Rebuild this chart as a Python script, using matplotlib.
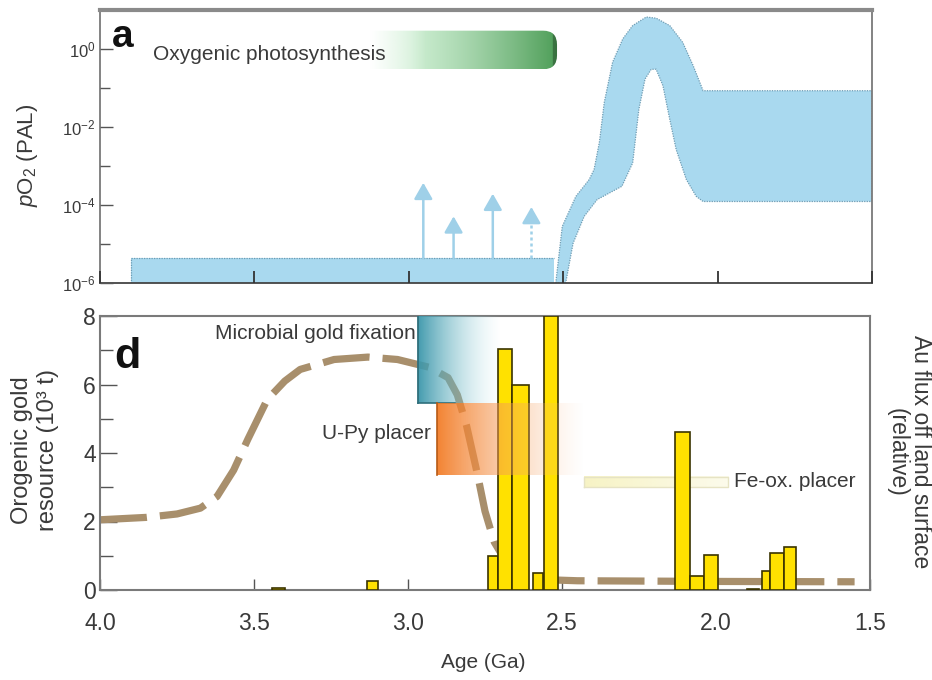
import numpy as np
import matplotlib
matplotlib.use('Agg')
import matplotlib.pyplot as plt
from matplotlib.patches import FancyBboxPatch
from matplotlib.ticker import FixedLocator, FixedFormatter, NullFormatter

plt.rcParams['font.family'] = ['Liberation Sans', 'DejaVu Sans']
plt.rcParams['mathtext.fontset'] = 'custom'
plt.rcParams['mathtext.rm'] = 'Liberation Sans'
plt.rcParams['mathtext.it'] = 'Liberation Sans:italic'
plt.rcParams['mathtext.bf'] = 'Liberation Sans:bold'

TEXT = '#3a3a3a'
SPINE = '#7a7a7a'

# ---------------- data: panel a (pO2, PAL; log10 values) ----------------
low_band_age = [3.9, 2.53]
low_band_top_log = -5.37
rise_upper_age = [2.524, 2.515, 2.503, 2.459, 2.416, 2.400, 2.383, 2.367, 2.340,
                  2.307, 2.275, 2.231, 2.199, 2.155, 2.113, 2.079, 2.047, 1.5]
rise_upper_log = [-6.0, -5.37, -4.55, -3.78, -3.35, -3.09, -2.40, -1.37, -0.34,
                  0.26, 0.60, 0.82, 0.79, 0.60, 0.17, -0.43, -1.07, -1.07]
rise_lower_age = [1.5, 2.047, 2.069, 2.101, 2.134, 2.155, 2.177, 2.199, 2.215,
                  2.235, 2.255, 2.275, 2.310, 2.390, 2.432, 2.468, 2.492]
rise_lower_log = [-3.91, -3.91, -3.78, -3.35, -2.58, -1.80, -0.94, -0.52, -0.52,
                  -0.77, -1.55, -2.92, -3.52, -3.86, -4.29, -4.98, -6.0]

arrow_age = [2.953, 2.855, 2.728, 2.603]
arrow_top_log = [-3.43, -4.29, -3.71, -4.05]
arrow_dotted = [False, False, False, True]

photo_age = [3.13, 2.52]          # oxygenic photosynthesis bar (fade start, end)
photo_log = [-0.52, 0.47]

top_yticks_log = [-6, -4, -2, 0]
top_ytick_labels = ['10$^{-6}$', '10$^{-4}$', '10$^{-2}$', '10$^{0}$']

# ---------------- data: panel d ----------------
bar_left = [3.441, 3.132, 2.740, 2.709, 2.663, 2.595, 2.557, 2.133, 2.085, 2.040,
            1.900, 1.850, 1.825, 1.780]
bar_right = [3.398, 3.096, 2.709, 2.663, 2.606, 2.562, 2.513, 2.085, 2.040, 1.995,
             1.860, 1.825, 1.780, 1.740]
bar_height = [0.06, 0.25, 1.0, 7.03, 6.0, 0.49, 8.0, 4.6, 0.4, 1.02,
              0.03, 0.56, 1.07, 1.27]

flux_age = [4.0, 3.85, 3.75, 3.674, 3.62, 3.566, 3.52, 3.457, 3.40, 3.35, 3.24, 3.13,
            3.034, 2.93, 2.87, 2.84, 2.81, 2.775, 2.75, 2.72, 2.69, 2.65, 2.61, 2.55,
            2.45, 2.0, 1.55]
flux_val = [2.05, 2.12, 2.22, 2.39, 2.73, 3.5, 4.4, 5.56, 6.1, 6.44, 6.73, 6.8,
            6.73, 6.5, 6.2, 5.7, 4.8, 3.4, 2.3, 1.4, 0.95, 0.6, 0.4, 0.3,
            0.27, 0.25, 0.24]

microbial_box = dict(age=[2.969, 2.70], val=[5.47, 8.0])
upy_box = dict(age=[2.906, 2.43], val=[3.37, 5.47])
feox_box = dict(age=[2.43, 1.96], val=[3.0, 3.3])

x_ticks = [4.0, 3.5, 3.0, 2.5, 2.0, 1.5]
x_tick_labels = ['4.0', '3.5', '3.0', '2.5', '2.0', '1.5']
y_ticks = [0, 2, 4, 6, 8]

# ---------------- figure ----------------
fig = plt.figure(figsize=(9.32, 6.8), dpi=100)
ax_a = fig.add_axes([100/932, 1-283/680, 772/932, 273/680])
ax_d = fig.add_axes([100/932, 1-590/680, 770/932, 274/680])

BLUE = '#a9d9ef'
BLUE_EDGE = '#6f9cb3'
ARROW = '#9fd0e8'

# ---- panel a ----
ax_a.set_yscale('log')
ax_a.set_xlim(4.0, 1.5)
ax_a.set_ylim(1e-6, 1e1)
ax_a.set_axisbelow(False)

ax_a.fill([low_band_age[0], low_band_age[1], low_band_age[1], low_band_age[0]],
          [1e-6, 1e-6, 10**low_band_top_log, 10**low_band_top_log],
          fc=BLUE, ec='none', zorder=2)
ax_a.plot(low_band_age, [10**low_band_top_log]*2, color=BLUE_EDGE, lw=0.9,
          ls=(0, (1, 1)), zorder=2.1)
ax_a.plot([low_band_age[0]]*2, [1e-6, 10**low_band_top_log], color=BLUE_EDGE, lw=0.9,
          ls=(0, (1, 1)), zorder=2.1)
poly_x = rise_upper_age + rise_lower_age
poly_y = [10**v for v in rise_upper_log + rise_lower_log]
ax_a.fill(poly_x, poly_y, fc=BLUE, ec=BLUE_EDGE, lw=0.9, ls=(0, (1, 1)), zorder=2)

for a, t, dotted in zip(arrow_age, arrow_top_log, arrow_dotted):
    base = 10**low_band_top_log
    if dotted:
        ax_a.plot([a, a], [base, 10**(t-0.35)], color=ARROW, lw=1.8,
                  ls=(0, (1.2, 1.2)), zorder=3)
        ax_a.annotate('', xy=(a, 10**t), xytext=(a, 10**(t-0.36)),
                      arrowprops=dict(arrowstyle='-|>,head_width=0.4,head_length=0.7',
                                      color=ARROW, lw=1.8, shrinkA=0, shrinkB=0,
                                      mutation_scale=14), zorder=3)
    else:
        ax_a.annotate('', xy=(a, 10**t), xytext=(a, base),
                      arrowprops=dict(arrowstyle='-|>,head_width=0.4,head_length=0.7',
                                      color=ARROW, lw=1.8, shrinkA=0, shrinkB=0,
                                      mutation_scale=14), zorder=3)

# photosynthesis gradient bar (in axes coords, clipped by rounded box)
d2a = ax_a.transData + ax_a.transAxes.inverted()
(fx0, fy0) = d2a.transform((photo_age[0], 10**photo_log[0]))
(fx1, fy1) = d2a.transform((photo_age[1], 10**photo_log[1]))
n = 256
t = np.linspace(0, 1, n)
grad = np.zeros((2, n, 4))
c_light = np.array([205, 238, 210]) / 255
c_dark = np.array([78, 158, 88]) / 255
mix = np.clip((t - 0.2) / 0.8, 0, 1) ** 1.3
for k in range(3):
    grad[:, :, k] = c_light[k] * (1 - mix) + c_dark[k] * mix
grad[:, :, 3] = np.clip(t / 0.3, 0, 1) ** 1.2
edge = t > 0.975
grad[:, edge, :3] *= 0.72
im = ax_a.imshow(grad, extent=(fx0, fx1, fy0, fy1), transform=ax_a.transAxes,
                 aspect='auto', interpolation='bilinear', zorder=2)
aw, ah = 772, 273
rs = 0.018
clip = FancyBboxPatch((fx0 - 0.05, fy0), fx1 - fx0 + 0.05, fy1 - fy0,
                      boxstyle=f'round,pad=0,rounding_size={rs}',
                      mutation_aspect=aw/ah, transform=ax_a.transAxes,
                      fc='none', ec='none')
ax_a.add_patch(clip)
im.set_clip_path(clip)

ax_a.text(3.827, 10**-0.13, 'Oxygenic photosynthesis', fontsize=15, color=TEXT,
          ha='left', va='center', zorder=5)
ax_a.text(3.96, 10**0.06, 'a', fontsize=28, fontweight='bold', color='#111111',
          ha='left', va='baseline', zorder=5)

ax_a.set_xlim(4.0, 1.5)
ax_a.set_ylim(1e-6, 1e1)
ax_a.yaxis.set_major_locator(FixedLocator([10.0**v for v in top_yticks_log]))
ax_a.yaxis.set_major_formatter(FixedFormatter(top_ytick_labels))
ax_a.yaxis.set_minor_locator(FixedLocator([1e-5, 1e-3, 1e-1]))
ax_a.yaxis.set_minor_formatter(NullFormatter())
ax_a.xaxis.set_major_locator(FixedLocator(x_ticks))
ax_a.xaxis.set_major_formatter(NullFormatter())
ax_a.tick_params(axis='both', which='both', direction='in', colors='#555555')
ax_a.tick_params(axis='y', which='major', length=9, width=1.0, labelsize=12,
                 pad=3, labelcolor=TEXT)
ax_a.tick_params(axis='y', which='minor', length=7, width=1.0)
ax_a.tick_params(axis='x', which='major', length=9, width=1.3, colors='#333333')
for s in ['left', 'right']:
    ax_a.spines[s].set_color(SPINE)
    ax_a.spines[s].set_linewidth(1.3)
ax_a.spines['top'].set_color('#8a8a8a')
ax_a.spines['top'].set_linewidth(3)
ax_a.spines['bottom'].set_color('#444444')
ax_a.spines['bottom'].set_linewidth(1.3)

fig.text(28/932, 1-155/680, r'$\it{p}$O$_2$ (PAL)', rotation=90, fontsize=16,
         color=TEXT, ha='center', va='center')

# ---- panel d ----
ax_d.set_xlim(4.0, 1.5)
ax_d.set_ylim(0, 8)

FLUX = '#a88f6c'
ax_d.plot(flux_age, flux_val, color=FLUX, lw=5.2, ls=(0, (6.5, 1.8)),
          solid_capstyle='butt', dash_capstyle='butt', zorder=2)

n = 256
tt = np.linspace(0, 1, n)

# microbial gold fixation (teal)
arr = np.zeros((2, n, 4))
c0 = np.array([58, 150, 170]) / 255
c1 = np.array([170, 220, 228]) / 255
for k in range(3):
    arr[:, :, k] = c0[k] * (1 - tt) + c1[k] * tt
arr[:, :, 3] = (1 - tt) ** 1.1 * 0.95
ax_d.imshow(arr, extent=(microbial_box['age'][0], microbial_box['age'][1],
                         microbial_box['val'][0], microbial_box['val'][1]),
            aspect='auto', interpolation='bilinear', zorder=3)
ax_d.plot([microbial_box['age'][0]]*2, microbial_box['val'], color='#2f6f7c',
          lw=1.3, zorder=3.1)
ax_d.plot([microbial_box['age'][0], microbial_box['age'][0] - 0.12],
          [microbial_box['val'][0]]*2, color='#2f6f7c', lw=1.2, zorder=3.1)

# bars
centers = [(l + r) / 2 for l, r in zip(bar_left, bar_right)]
widths = [l - r for l, r in zip(bar_left, bar_right)]
ax_d.bar(centers, bar_height, width=widths, color='#ffe100', edgecolor='#3a3300',
         linewidth=1.2, zorder=4)

# U-Py placer (orange)
arr = np.zeros((2, n, 4))
c0 = np.array([242, 118, 28]) / 255
c1 = np.array([250, 200, 160]) / 255
for k in range(3):
    arr[:, :, k] = c0[k] * (1 - tt) + c1[k] * tt
arr[:, :, 3] = (1 - tt) ** 1.0 * 0.9
ax_d.imshow(arr, extent=(upy_box['age'][0], upy_box['age'][1],
                         upy_box['val'][0], upy_box['val'][1]),
            aspect='auto', interpolation='bilinear', zorder=5)
ax_d.plot([upy_box['age'][0]]*2, upy_box['val'], color='#b85a15', lw=1.2, zorder=5.1)

# Fe-ox placer (pale yellow)
arr = np.zeros((2, n, 4))
arr[:, :, :3] = np.array([246, 242, 190]) / 255
arr[:, :, 3] = 0.9 - 0.6 * tt
ax_d.imshow(arr, extent=(feox_box['age'][0], feox_box['age'][1],
                         feox_box['val'][0], feox_box['val'][1]),
            aspect='auto', interpolation='bilinear', zorder=3)
ax_d.plot([feox_box['age'][0], feox_box['age'][1], feox_box['age'][1],
           feox_box['age'][0], feox_box['age'][0]],
          [feox_box['val'][0], feox_box['val'][0], feox_box['val'][1],
           feox_box['val'][1], feox_box['val'][0]],
          color='#e6e3c4', lw=1.0, zorder=3.1)

ax_d.text(2.975, 7.5, 'Microbial gold fixation', fontsize=15, color=TEXT,
          ha='right', va='center', zorder=6)
ax_d.text(2.925, 4.58, 'U-Py placer', fontsize=15, color=TEXT,
          ha='right', va='center', zorder=6)
ax_d.text(1.94, 3.16, 'Fe-ox. placer', fontsize=15, color=TEXT,
          ha='left', va='center', zorder=6)
ax_d.text(3.955, 6.48, 'd', fontsize=31, fontweight='bold', color='#111111',
          ha='left', va='baseline', zorder=6)

ax_d.set_xlim(4.0, 1.5)
ax_d.set_ylim(0, 8)
ax_d.xaxis.set_major_locator(FixedLocator(x_ticks))
ax_d.xaxis.set_major_formatter(FixedFormatter(x_tick_labels))
ax_d.yaxis.set_major_locator(FixedLocator(y_ticks))
ax_d.yaxis.set_minor_locator(FixedLocator([1, 3, 5, 7]))
ax_d.tick_params(axis='both', which='both', direction='in', colors='#555555',
                 labelcolor=TEXT)
ax_d.tick_params(axis='x', which='major', length=8, width=1.0, labelsize=16.5, pad=16)
ax_d.tick_params(axis='y', which='major', length=12, width=1.0, labelsize=16.5, pad=3)
ax_d.tick_params(axis='y', which='minor', length=9, width=1.0)
for s in ax_d.spines.values():
    s.set_color(SPINE)
    s.set_linewidth(1.5)

fig.text(483/932, 1-663/680, 'Age (Ga)', fontsize=15, color=TEXT,
         ha='center', va='center')
fig.text(35/932, 1-450/680, 'Orogenic gold\nresource (10\u00b3 t)', rotation=90,
         fontsize=17, color=TEXT, ha='center', va='center', multialignment='center',
         linespacing=1.2)
fig.text(909/932, 1-452/680, 'Au flux off land surface\n(relative)', rotation=270,
         fontsize=16.5, color=TEXT, ha='center', va='center', multialignment='center',
         linespacing=1.05)

fig.savefig('out.png', dpi=100)
